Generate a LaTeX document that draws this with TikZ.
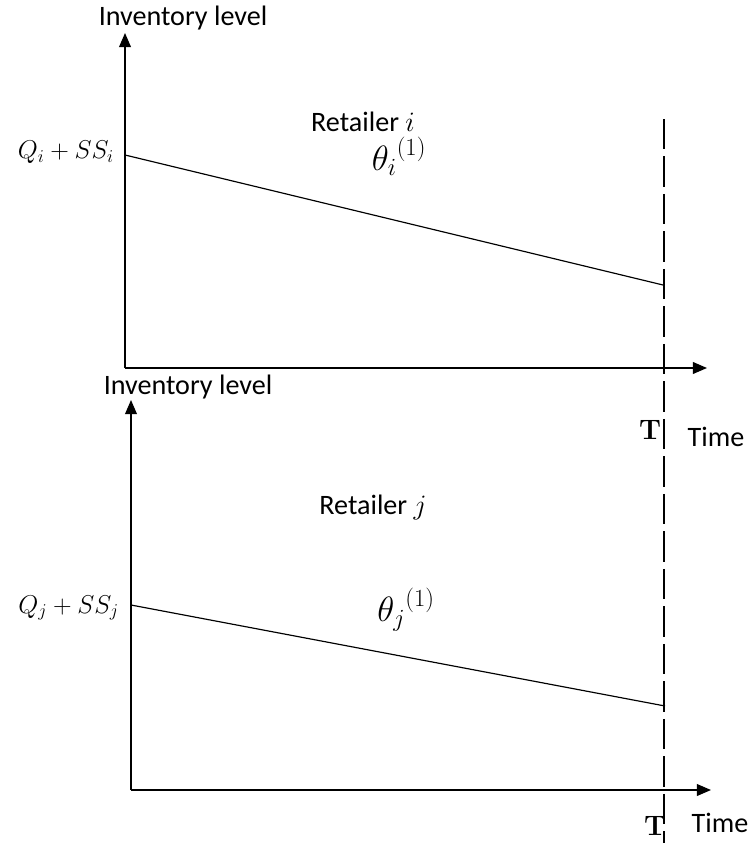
\RequirePackage{fix-cm}
\documentclass[tikz,border=0pt]{standalone}
\usepackage{fontspec}
\setsansfont{Carlito}
\usepackage{tikz}
\usetikzlibrary{arrows.meta, positioning, calc}

\begin{document}
\begin{tikzpicture}[
  x=0.03cm, y=-0.03cm,
  axis/.style={-{Triangle[length=12pt, width=10pt]}, line width=1.3pt},
  level/.style={line width=1pt},
  horizon/.style={line width=1.3pt, dash pattern=on 26pt off 6pt},
  lbl/.style={font=\fontsize{24}{28}\sffamily\selectfont, inner sep=0pt},
  mlbl/.style={font=\fontsize{22}{26}\selectfont, inner sep=0pt},
  theta/.style={font=\fontsize{30}{34}\selectfont, inner sep=0pt},
  tmark/.style={font=\fontsize{24}{28}\rmfamily\bfseries\selectfont, inner sep=0pt}
]
\useasboundingbox (0,0) rectangle (747,843);

% retailer i
\coordinate (o1) at (125,368);
\coordinate (ytop1) at (125,33);
\coordinate (xend1) at (707,368);
\coordinate (start1) at (125,155);
\coordinate (end1) at (663,285);
\node[lbl] (inv1) at (183,18) {Inventory level};
\node[lbl] (ret1) at (363,122) {Retailer $i$};
\node[mlbl, anchor=east] (q1) at (114,152) {$Q_i+SS_i$};
\node[theta] (th1) at (399,156) {${\theta_i}^{(1)}$};
\node[tmark] (t1) at (650,430) {T};
\node[lbl] (time1) at (716,437) {Time};

\draw[axis] (o1) -- (ytop1);
\draw[axis] (o1) -- (xend1);
\draw[level] (start1) -- (end1);

% retailer j
\coordinate (o2) at (131,790);
\coordinate (ytop2) at (131,400);
\coordinate (xend2) at (711,790);
\coordinate (start2) at (131,605);
\coordinate (end2) at (665,706);
\node[lbl] (inv2) at (188,387) {Inventory level};
\node[lbl] (ret2) at (373,507) {Retailer $j$};
\node[mlbl, anchor=east] (q2) at (119,608) {$Q_j+SS_j$};
\node[theta] (th2) at (406,610) {${\theta_j}^{(1)}$};
\node[tmark] (t2) at (655,826) {T};
\node[lbl] (time2) at (720,823) {Time};

\draw[axis] (o2) -- (ytop2);
\draw[axis] (o2) -- (xend2);
\draw[level] (start2) -- (end2);

% planning horizon
\coordinate (htop) at (664,119);
\coordinate (hbot) at (664,843);
\draw[horizon] (htop) -- (hbot);

\end{tikzpicture}
\end{document}
